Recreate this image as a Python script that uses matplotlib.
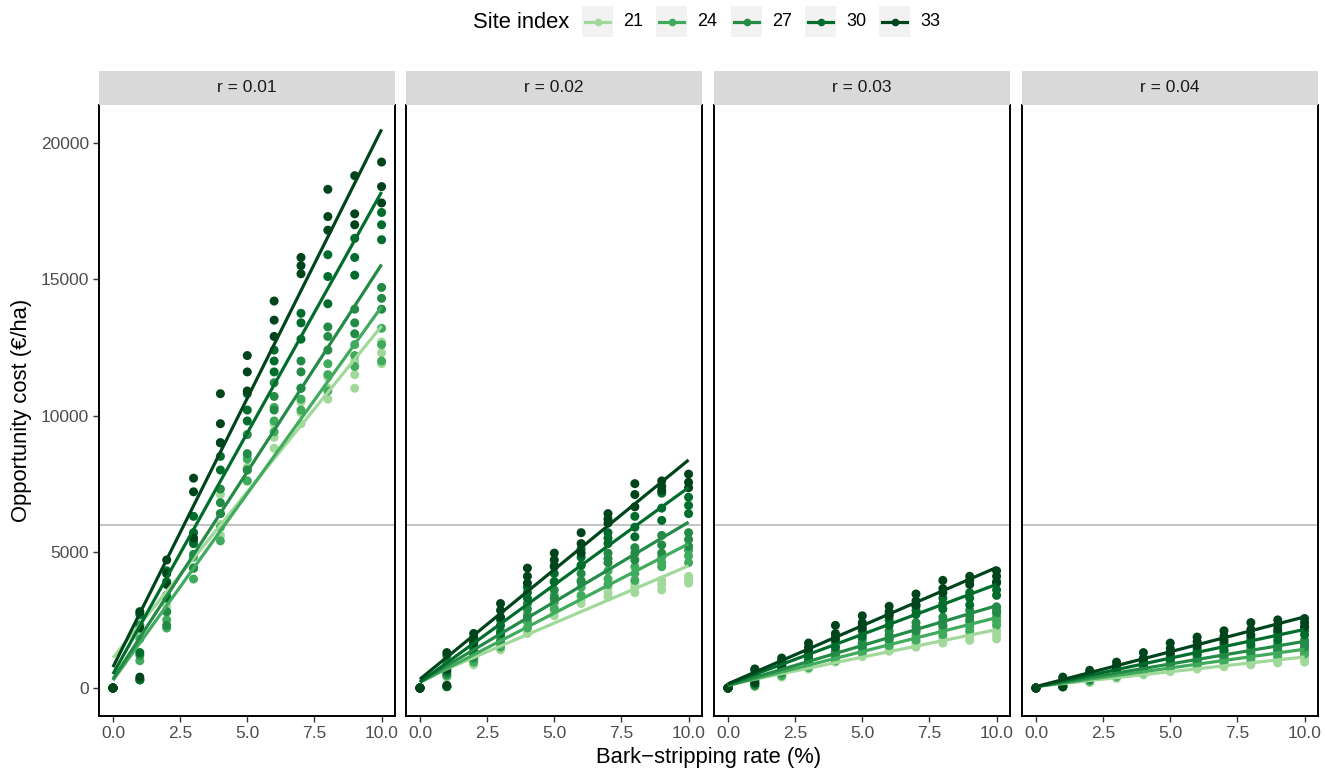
import matplotlib
matplotlib.use("Agg")
import matplotlib.pyplot as plt
from matplotlib.lines import Line2D
from matplotlib.patches import Rectangle
import numpy as np

plt.rcParams['font.family'] = ['Liberation Sans', 'DejaVu Sans']

# ---------------- data ----------------
site_index = [21, 24, 27, 30, 33]
site_colors = ['#A1D99B', '#41AB5D', '#238B45', '#006D2C', '#00441B']
rates = [0.01, 0.02, 0.03, 0.04]
strip_labels = ['r = 0.01', 'r = 0.02', 'r = 0.03', 'r = 0.04']
bark_rate = [0, 1, 2, 3, 4, 5, 6, 7, 8, 9, 10]
x_ticks = [0.0, 2.5, 5.0, 7.5, 10.0]
x_ticklabels = ['0.0', '2.5', '5.0', '7.5', '10.0']
y_ticks = [0, 5000, 10000, 15000, 20000]
threshold = 6000

# opportunity cost (EUR/ha) at bark-stripping rate 1..10 (rate 0 -> 0), three scenarios each
cost_r001 = {
    21: [[2000, 3000, 4400, 5600, 7600, 8800, 9700, 10600, 11000, 11900],
         [2500, 3400, 4900, 6000, 8100, 9200, 10100, 11000, 11500, 12300],
         [2800, 3900, 5300, 7100, 8500, 9700, 10500, 11400, 12000, 12700]],
    24: [[300, 2200, 4000, 5400, 7600, 9400, 10200, 10900, 11800, 12000],
         [1000, 2500, 4400, 5900, 8000, 9800, 10600, 11500, 12200, 12600],
         [1800, 2800, 4800, 6400, 8400, 10300, 11000, 11900, 12600, 13200]],
    27: [[300, 2300, 4400, 6400, 8000, 10200, 11000, 12400, 13000, 13900],
         [1200, 2800, 4900, 6800, 8600, 10700, 11600, 12900, 13400, 14300],
         [2300, 3400, 5400, 7300, 9300, 11200, 12000, 13250, 13900, 14700]],
    30: [[300, 3300, 5300, 8000, 9800, 11600, 12800, 14100, 15150, 16450],
         [1300, 3900, 5700, 8500, 10200, 12000, 13400, 15100, 15800, 17000],
         [2700, 4300, 6300, 9000, 10800, 12400, 13750, 15900, 16500, 17450]],
    33: [[400, 3800, 5500, 9000, 10900, 12900, 15200, 16800, 17000, 17800],
         [2200, 4200, 7200, 9700, 11600, 13500, 15500, 17300, 17400, 18400],
         [2800, 4700, 7700, 10800, 12200, 14200, 15800, 18300, 18800, 19300]],
}
cost_r002 = {
    21: [[50, 850, 1400, 2000, 2650, 3100, 3350, 3500, 3600, 3850],
         [400, 1000, 1600, 2200, 2800, 3250, 3500, 3700, 3800, 4000],
         [800, 1150, 1800, 2400, 2950, 3350, 3650, 3850, 3950, 4100]],
    24: [[50, 950, 1500, 2200, 2900, 3400, 3800, 3950, 4450, 4600],
         [450, 1100, 1700, 2450, 3150, 3700, 4000, 4200, 4600, 4850],
         [900, 1250, 1900, 2700, 3400, 3950, 4300, 4450, 4800, 5050]],
    27: [[50, 1100, 1700, 2600, 3300, 3900, 4600, 4700, 4950, 5200],
         [500, 1250, 1900, 2900, 3600, 4200, 4750, 4950, 5250, 5450],
         [1000, 1400, 2100, 3100, 3900, 4500, 4950, 5150, 5600, 5700]],
    30: [[50, 1300, 2000, 3300, 3900, 4500, 5300, 5550, 6150, 6400],
         [600, 1500, 2300, 3500, 4200, 4800, 5500, 5900, 6600, 6700],
         [1200, 1700, 2500, 3700, 4500, 5100, 5700, 6300, 7150, 7000]],
    33: [[100, 1650, 2600, 3850, 4450, 4950, 6050, 6650, 7250, 7350],
         [700, 1850, 2850, 4100, 4700, 5300, 6200, 7100, 7400, 7550],
         [1300, 2000, 3100, 4400, 4950, 5700, 6400, 7500, 7600, 7850]],
}
cost_r003 = {
    21: [[50, 400, 700, 950, 1150, 1350, 1500, 1650, 1750, 1800],
         [200, 500, 800, 1050, 1250, 1450, 1600, 1750, 1900, 1950],
         [350, 600, 900, 1150, 1400, 1550, 1700, 1850, 2000, 2100]],
    24: [[80, 450, 750, 1000, 1300, 1550, 1750, 1950, 2100, 2300],
         [250, 600, 900, 1150, 1450, 1700, 1900, 2100, 2250, 2450],
         [400, 700, 1000, 1300, 1600, 1850, 2050, 2250, 2400, 2600]],
    27: [[100, 550, 850, 1200, 1500, 1800, 2100, 2300, 2500, 2750],
         [300, 700, 1000, 1350, 1650, 1950, 2250, 2450, 2650, 2850],
         [500, 800, 1150, 1500, 1800, 2100, 2400, 2600, 2850, 2980]],
    30: [[150, 700, 1100, 1500, 1900, 2300, 2700, 2900, 3050, 3400],
         [400, 850, 1250, 1700, 2100, 2500, 2850, 3100, 3300, 3600],
         [650, 1000, 1400, 1900, 2300, 2700, 3000, 3300, 3500, 3850]],
    33: [[200, 850, 1350, 1800, 2200, 2650, 3050, 3500, 3800, 3900],
         [450, 950, 1500, 2000, 2400, 2800, 3200, 3650, 3950, 4100],
         [700, 1100, 1650, 2300, 2650, 3000, 3450, 3950, 4100, 4300]],
}
cost_r004 = {
    21: [[30, 200, 350, 480, 600, 700, 780, 850, 920, 950],
         [100, 270, 410, 540, 660, 770, 850, 930, 1000, 1050],
         [180, 330, 470, 600, 720, 830, 920, 1000, 1080, 1150]],
    24: [[40, 250, 420, 580, 720, 850, 950, 1050, 1150, 1250],
         [130, 320, 490, 650, 800, 930, 1050, 1150, 1250, 1350],
         [220, 380, 550, 720, 870, 1000, 1130, 1250, 1350, 1450]],
    27: [[50, 300, 500, 700, 850, 1000, 1150, 1300, 1400, 1500],
         [150, 380, 580, 780, 950, 1100, 1250, 1400, 1500, 1620],
         [250, 450, 650, 850, 1050, 1200, 1350, 1500, 1600, 1750]],
    30: [[50, 350, 600, 850, 1050, 1250, 1400, 1600, 1750, 1950],
         [200, 450, 700, 950, 1150, 1350, 1550, 1750, 1900, 2100],
         [350, 550, 800, 1050, 1250, 1450, 1650, 1850, 2050, 2230]],
    33: [[50, 400, 700, 950, 1300, 1550, 1750, 1950, 2150, 2250],
         [200, 500, 800, 1100, 1450, 1700, 1900, 2150, 2300, 2400],
         [400, 650, 950, 1300, 1650, 1870, 2100, 2400, 2500, 2550]],
}
cost_by_rate = [cost_r001, cost_r002, cost_r003, cost_r004]

# ---------------- layout ----------------
W, H = 1325, 770
fig = plt.figure(figsize=(W / 100, H / 100), dpi=100)
fig.patch.set_facecolor('white')

def fx(px):
    return px / W

def fy(py):
    return 1 - py / H

panel_left = [99, 406, 714, 1022]
panel_w = 296
panel_top, panel_bottom = 105, 716
strip_top = 71

ylim = (-1027, 21394)
xlim = (-0.52, 10.5)

for i, rate in enumerate(rates):
    ax = fig.add_axes([fx(panel_left[i]), fy(panel_bottom), panel_w / W,
                       (panel_bottom - panel_top) / H])
    ax.set_xlim(*xlim)
    ax.set_ylim(*ylim)
    ax.set_facecolor('white')
    ax.axhline(threshold, color='#BEBEBE', lw=1.3, zorder=1)
    data = cost_by_rate[i]
    # points
    for si, col in zip(site_index, site_colors):
        xs, ys = [], []
        for scen in data[si]:
            xs += bark_rate
            ys += [0] + scen
        ax.scatter(xs, ys, s=42, color=col, edgecolors='none', zorder=2)
    # linear fits
    for si, col in zip(site_index, site_colors):
        xs, ys = [], []
        for scen in data[si]:
            xs += bark_rate
            ys += [0] + scen
        b, a = np.polyfit(xs, ys, 1)
        xx = np.array([min(bark_rate), max(bark_rate)])
        ax.plot(xx, a + b * xx, color=col, lw=2.3, solid_capstyle='butt', zorder=3)

    ax.set_xticks(x_ticks)
    ax.set_xticklabels(x_ticklabels, fontsize=12.5, color='#4D4D4D')
    ax.set_yticks(y_ticks)
    if i == 0:
        ax.set_yticklabels([str(v) for v in y_ticks], fontsize=12.5, color='#4D4D4D')
    else:
        ax.tick_params(axis='y', left=False, labelleft=False)
    ax.tick_params(axis='both', length=4, width=1.0, color='#333333', pad=3)
    for sp in ax.spines.values():
        sp.set_color('black')
        sp.set_linewidth(1.4)
    ax.spines['top'].set_visible(False)

    # strip
    sax = fig.add_axes([fx(panel_left[i]), fy(panel_top), panel_w / W,
                        (panel_top - strip_top) / H])
    sax.set_facecolor('#D9D9D9')
    sax.set_xticks([])
    sax.set_yticks([])
    for sp in sax.spines.values():
        sp.set_visible(False)
    sax.text(0.5, 0.5, strip_labels[i], ha='center', va='center', fontsize=12.5,
             color='#1A1A1A', transform=sax.transAxes)

# axis titles
fig.text(fx(708.5), fy(758), 'Bark\u2212stripping rate (%)', ha='center', va='center', fontsize=15.8)
fig.text(fx(22), fy(410), 'Opportunity cost (\u20ac/ha)', ha='center', va='center',
         rotation=90, fontsize=15.8)

# legend
fig.text(fx(473), fy(22), 'Site index', ha='left', va='center', fontsize=15.8)
key_left = [582, 656, 731, 805, 879]
for si, col, kl in zip(site_index, site_colors, key_left):
    fig.patches.append(Rectangle((fx(kl), fy(37)), 31 / W, 31 / H, transform=fig.transFigure,
                                 facecolor='#F2F2F2', edgecolor='none'))
    fig.lines.append(Line2D([fx(kl + 3), fx(kl + 28)], [fy(22), fy(22)], transform=fig.transFigure,
                            color=col, lw=2.3))
    fig.lines.append(Line2D([fx(kl + 15.5)], [fy(22)], transform=fig.transFigure, color=col,
                            marker='o', markersize=5.5, markeredgewidth=0, linestyle='none'))
    fig.text(fx(kl + 41), fy(22), str(si), ha='left', va='center', fontsize=13)

fig.savefig('out.png', dpi=100)
